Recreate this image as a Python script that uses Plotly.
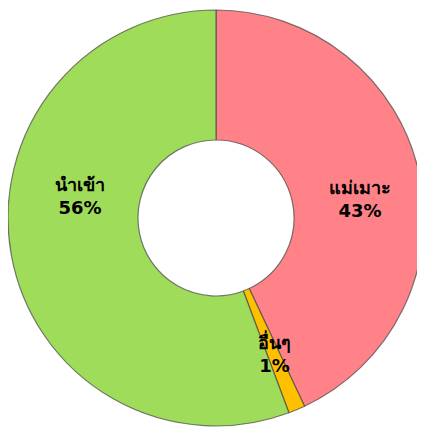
import plotly.graph_objects as go

labels = ["แม่เมาะ", "อื่นๆ", "นำเข้า"]
values = [43.0, 1.3, 55.7]
pct_text = ["43%", "1%", "56%"]
colors = ["#FF8288", "#FFC000", "#9FDC5A"]

W, H = 425, 430
OFF = 8  # page body margin
# label centre positions (pixels in the page, from top-left)
label_pos = [(360, 199), (274, 353), (80, 196)]

fig = go.Figure(go.Pie(
    labels=labels, values=values, hole=0.375, sort=False, direction="clockwise",
    rotation=0, textinfo="none", hoverinfo="label+percent",
    marker=dict(colors=colors, line=dict(color="rgba(70,70,70,0.7)", width=1.2)),
    domain=dict(x=[0, 416 / W], y=[12 / H, 428 / H]),
    showlegend=False,
))

anns = []
for lab, pt, (px, py) in zip(labels, pct_text, label_pos):
    anns.append(dict(x=(px - OFF) / W, y=1 - (py - OFF) / H, xref="paper", yref="paper",
                     xanchor="center", yanchor="middle", showarrow=False,
                     text=f"<b>{lab}<br>{pt}</b>",
                     font=dict(size=18, color="black", family="Tahoma, DejaVu Sans, Noto Sans")))

fig.update_layout(width=W, height=H, margin=dict(l=0, r=0, t=0, b=0),
                  paper_bgcolor="white", annotations=anns)
fig.write_html("out.html")
